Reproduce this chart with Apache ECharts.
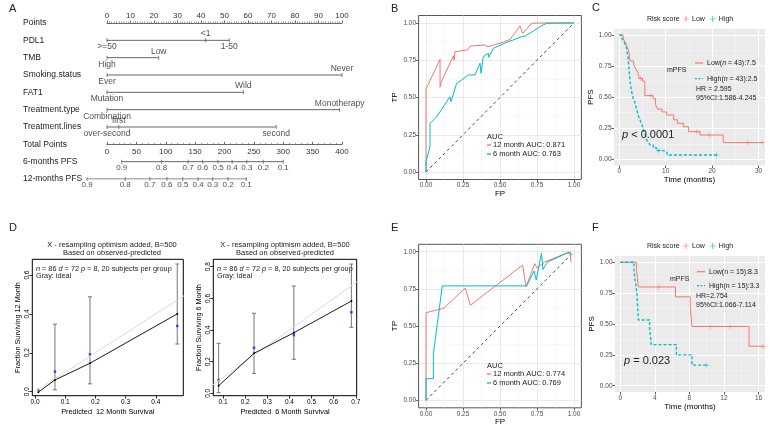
<!DOCTYPE html>
<html><head><meta charset="utf-8">
<script src="https://cdn.jsdelivr.net/npm/echarts@6/dist/echarts.min.js"></script>
<style>html,body{margin:0;padding:0;background:#fff}#c{width:770px;height:425px}</style>
</head><body><div id="c"></div>
<script>
// ================= DATA =================
// A: nomogram
const nomoRows = ['Points','PDL1','TMB','Smoking.status','FAT1','Treatment.type','Treatment.lines','Total Points','6-months PFS','12-months PFS'];
const pdl1Levels = ['>=50','<1','1-50'];            const pdl1Pts = [0, 42, 52];
const tmbLevels = ['High','Low'];                    const tmbPts = [0, 22];
const smokingLevels = ['Ever','Never'];              const smokingPts = [0, 100];
const fat1Levels = ['Mutation','Wild'];              const fat1Pts = [0, 58];
const ttypeLevels = ['Combination','Monotherapy'];   const ttypePts = [0, 99];
const tlinesLevels = ['over-second','first','second']; const tlinesPts = [0, 5, 72];
const pfsTickLabels = ['0.9','0.8','0.7','0.6','0.5','0.4','0.3','0.2','0.1'];
const pfs6Total  = [25, 93, 138, 163, 189, 213, 238, 266, 300];
const pfs12Total = [-34, 31, 73, 102, 129, 155, 180, 206, 237];

// B: ROC (training)
const rocB12 = [[0,0],[0,0.557],[0.095,0.756],[0.095,0.57],[0.106,0.61],[0.185,0.78],[0.19,0.75],[0.196,0.807],[0.25,0.815],[0.28,0.82],[0.3,0.845],[0.365,0.85],[0.4,0.852],[0.42,0.84],[0.455,0.852],[0.52,0.87],[0.568,0.89],[0.59,0.919],[0.635,0.98],[0.653,0.93],[0.714,0.998],[0.8,1.0],[1.0,1.0]];
const rocB6 = [[0,0],[0,0.07],[0.027,0.17],[0.027,0.326],[0.072,0.37],[0.162,0.505],[0.169,0.472],[0.207,0.595],[0.241,0.617],[0.286,0.651],[0.331,0.651],[0.365,0.73],[0.372,0.662],[0.387,0.774],[0.421,0.796],[0.425,0.77],[0.455,0.83],[0.556,0.875],[0.56,0.864],[0.59,0.886],[0.647,0.908],[0.657,0.919],[0.667,0.91],[0.736,0.953],[0.77,0.975],[0.815,0.998],[1.0,1.0]];
const rocDiag = [[0,0],[1,1]];
const aucB = ['12 month AUC: 0.871','6 month AUC: 0.763'];

// C: KM training
const cLowT = [0,0.8,1.1,1.4,1.6,1.9,2.1,2.2,2.3,3.1,3.3,3.6,4.0,4.3,5.0,5.5,7.3,7.8,8.2,9.2,10.2,11.7,12.5,13.8,14.9,17.4,22.4,30.8];
const cLowS = [1,0.977,0.953,0.930,0.907,0.884,0.860,0.814,0.791,0.767,0.744,0.721,0.698,0.651,0.628,0.512,0.488,0.442,0.404,0.381,0.356,0.318,0.290,0.262,0.222,0.195,0.134,0.134];
const cHighT = [0,0.5,0.9,1.2,1.5,1.7,1.9,2.0,2.1,2.2,2.3,2.5,2.7,3.0,3.3,3.6,3.8,4.1,4.4,4.6,4.9,5.2,5.5,5.8,6.2,6.6,7.3,8.0,9.5,10.3,21.0];
const cHighS = [1,0.977,0.953,0.930,0.907,0.860,0.814,0.767,0.721,0.674,0.628,0.581,0.535,0.488,0.465,0.419,0.395,0.349,0.326,0.302,0.279,0.233,0.209,0.163,0.140,0.116,0.093,0.070,0.058,0.035,0.035];
const cLowCensor = [[4.6,0.651],[6.8,0.512],[16.7,0.222],[19.5,0.195],[27.6,0.134],[30.8,0.134]];
const cHighCensor = [[8.5,0.070],[21.0,0.035]];

// D: calibration
const cal12Pred = [0.011, 0.066, 0.182, 0.471];
const cal12Obs  = [-0.003, 0.06, 0.146, 0.40];
const cal12Corr = [0.009, 0.103, 0.192, 0.338];
const cal12Lo   = [null, 0.009, 0.04, 0.245];
const cal12Hi   = [null, 0.347, 0.488, 0.657];
const cal6Pred = [0.08, 0.24, 0.42, 0.68];
const cal6Obs  = [0.048, 0.253, 0.383, 0.583];
const cal6Corr = [0.084, 0.288, 0.368, 0.512];
const cal6Lo   = [0.004, 0.126, 0.215, 0.417];
const cal6Hi   = [0.316, 0.506, 0.678, 0.817];

// E: ROC (validation)
const rocE12 = [[0,0],[0,0.59],[0.12,0.62],[0.265,0.755],[0.3,0.64],[0.653,0.91],[0.676,0.765],[0.735,0.92],[0.75,0.89],[0.8,0.93],[0.973,1.0],[0.98,0.93]];
const rocE6 = [[0,0],[0,0.146],[0.05,0.146],[0.05,0.315],[0.11,0.77],[0.68,0.77],[0.73,0.87],[0.745,0.81],[0.78,0.99],[0.79,0.88],[0.82,0.93],[0.95,0.99],[0.98,0.99]];
const aucE = ['12 month AUC: 0.774','6 month AUC: 0.769'];

// F: KM validation
const fLowT = [0,1.9,2.0,2.1,6.4,8.1,8.3,14.9,16.6];
const fLowS = [1,0.933,0.867,0.80,0.72,0.64,0.48,0.32,0.32];
const fHighT = [0,1.6,1.7,1.85,1.95,2.0,2.05,2.1,3.4,3.5,3.6,6.5,8.3,10.0];
const fHighS = [1,0.933,0.867,0.80,0.733,0.667,0.60,0.533,0.467,0.40,0.333,0.25,0.167,0.167];
const fLowCensor = [[4.4,0.80],[10.4,0.48],[12.7,0.48],[16.6,0.32]];
const fHighCensor = [[10.0,0.167]];

// ================= RENDER =================
const FONT = '"Liberation Sans", Arial, Helvetica, sans-serif';
const SAL = '#F8766D', CYA = '#00BFC4';
const zip = (a,b) => a.map((v,i)=>[v,b[i]]);
const CROSS = 'path://M4.4,0h1.2v10h-1.2zM0,4.4h10v1.2h-10z';

const grids = [
  {left:107, top:23, width:235, height:156},                // 0 nomogram
  {left:418.6, top:15.5, width:162.8, height:164, show:true, backgroundColor:'#fff', borderColor:'#555', borderWidth:1}, // 1 B
  {left:614, top:28.8, width:151, height:136.7, show:true, backgroundColor:'#EBEBEB', borderWidth:0}, // 2 C
  {left:32.3, top:259.3, width:151, height:136.4, show:true, backgroundColor:'transparent', borderColor:'#000', borderWidth:1}, // 3 D left
  {left:213.3, top:259.3, width:143.4, height:136.4, show:true, backgroundColor:'transparent', borderColor:'#000', borderWidth:1}, // 4 D right
  {left:418.6, top:244.3, width:162.8, height:163.5, show:true, backgroundColor:'#fff', borderColor:'#555', borderWidth:1}, // 5 E
  {left:615, top:256.1, width:150, height:135.8, show:true, backgroundColor:'#EBEBEB', borderWidth:0} // 6 F
].map(g=>Object.assign({outerBoundsMode:'none', containLabel:false}, g));

function ggAxes(dim, gi, min, max, major, minor, name, nameGap, fmt, bw) {
  const isX = dim==='x';
  const main = {
    gridIndex:gi, type:'value', min, max, position: isX?'bottom':'left',
    axisLine:{show:false, onZero:false},
    axisTick:{show:true, length:2.5, customValues:major, lineStyle:{color:'#333', width:0.8}},
    axisLabel:{customValues:major, formatter:fmt, fontSize:6.5, color:'#4d4d4d', margin:2.5, fontFamily:FONT},
    splitLine:{show:true, customValues:major, lineStyle:{color: bw?'#e3e3e3':'#ffffff', width: bw?0.8:1}},
    minorTick:{show:false}, minorSplitLine:{show:false},
    name, nameLocation:'middle', nameGap, nameTextStyle:{fontSize:8, color:'#000', fontFamily:FONT}
  };
  const mnr = {
    gridIndex:gi, type:'value', min, max, position: isX?'top':'right',
    axisLine:{show:false, onZero:false},
    axisTick:{show:false, customValues:minor},
    axisLabel:{show:false, customValues:minor},
    splitLine:{show:true, customValues:minor, lineStyle:{color: bw?'#f0f0f0':'#f7f7f7', width:0.5}}
  };
  return [main, mnr];
}
function rAxis(dim, gi, min, max, ticks, name, nameGap) {
  const isX = dim==='x';
  return {
    gridIndex:gi, type:'value', min, max, position: isX?'bottom':'left',
    axisLine:{show:false, onZero:false},
    axisTick:{show:true, length:3, customValues:ticks, lineStyle:{color:'#000', width:0.8}},
    axisLabel:{customValues:ticks, formatter:v=>v.toFixed(1), fontSize:6.5, color:'#000', margin: isX?3:1.5, rotate: isX?0:90, fontFamily:FONT},
    splitLine:{show:false},
    name, nameLocation:'middle', nameGap, nameTextStyle:{fontSize:7.3, color:'#000', fontFamily:FONT}
  };
}
const f2 = v=>v.toFixed(2);
const fi = v=>String(Math.round(v));

const xAxes = [
  // 0 Points
  {gridIndex:0, type:'value', min:0, max:100, interval:10, position:'top',
   axisLine:{show:true, onZero:false, lineStyle:{color:'#444', width:0.8}},
   axisTick:{show:true, length:2.5, lineStyle:{color:'#444', width:0.8}},
   minorTick:{show:true, splitNumber:10, length:1.5, lineStyle:{color:'#666', width:0.6}},
   axisLabel:{fontSize:8, color:'#333', margin:3, fontFamily:FONT}, splitLine:{show:false}},
  // 1 Total Points
  {gridIndex:0, type:'value', min:0, max:400, interval:50, position:'bottom', offset:-34.7,
   axisLine:{show:true, onZero:false, lineStyle:{color:'#444', width:0.8}},
   axisTick:{show:true, length:2.5, inside:true, lineStyle:{color:'#444', width:0.8}},
   minorTick:{show:true, splitNumber:5, length:1.5, lineStyle:{color:'#666', width:0.6}},
   axisLabel:{fontSize:8, color:'#333', margin:3, fontFamily:FONT}, splitLine:{show:false}},
  ...ggAxes('x',1,-0.05,1.05,[0,0.25,0.5,0.75,1],[0.125,0.375,0.625,0.875],'FP',10,f2,true), // 2,3
  ...ggAxes('x',2,-1.15,31.4,[0,10,20,30],[5,15,25],'Time (months)',10,fi,false), // 4,5
  rAxis('x',3,-0.009,0.491,[0,0.1,0.2,0.3,0.4],'Predicted  12 Month Survival',13), // 6
  rAxis('x',4,0.056,0.704,[0.1,0.2,0.3,0.4,0.5,0.6,0.7],'Predicted  6 Month Survival',13), // 7
  ...ggAxes('x',5,-0.05,1.05,[0,0.25,0.5,0.75,1],[0.125,0.375,0.625,0.875],'FP',10,f2,true), // 8,9
  ...ggAxes('x',6,-0.6,16.75,[0,4,8,12,16],[2,6,10,14],'Time (months)',10,fi,false) // 10,11
];
const yAxes = [
  // 0 nomogram rows
  {gridIndex:0, type:'category', data:nomoRows, inverse:true, boundaryGap:false,
   axisLine:{show:false}, axisTick:{show:false}, splitLine:{show:false},
   axisLabel:{align:'left', margin:84, fontSize:8.5, color:'#222', fontFamily:FONT, interval:0}},
  ...ggAxes('y',1,-0.05,1.05,[0,0.25,0.5,0.75,1],[0.125,0.375,0.625,0.875],'TP',20,f2,true), // 1,2
  ...ggAxes('y',2,-0.05,1.05,[0,0.25,0.5,0.75,1],[0.125,0.375,0.625,0.875],'PFS',18,f2,false), // 3,4
  rAxis('y',3,-0.021,0.681,[0,0.2,0.4,0.6],'Fraction Surviving 12 Month',11), // 5
  rAxis('y',4,-0.015,0.847,[0,0.2,0.4,0.6,0.8],'Fraction Surviving 6 Month',11), // 6
  ...ggAxes('y',5,-0.05,1.05,[0,0.25,0.5,0.75,1],[0.125,0.375,0.625,0.875],'TP',20,f2,true), // 7,8
  ...ggAxes('y',6,-0.05,1.05,[0,0.25,0.5,0.75,1],[0.125,0.375,0.625,0.875],'PFS',18,f2,false) // 9,10
];

const series = [];
// ---- A nomogram variable axes
const nomoVars = [
  {row:'PDL1', levels:pdl1Levels, pts:pdl1Pts, up:[1]},
  {row:'TMB', levels:tmbLevels, pts:tmbPts, up:[1]},
  {row:'Smoking.status', levels:smokingLevels, pts:smokingPts, up:[1]},
  {row:'FAT1', levels:fat1Levels, pts:fat1Pts, up:[1]},
  {row:'Treatment.type', levels:ttypeLevels, pts:ttypePts, up:[1]},
  {row:'Treatment.lines', levels:tlinesLevels, pts:tlinesPts, up:[1]}
];
const lblStyle = {show:true, fontSize:8.5, color:'#222', fontFamily:FONT, distance:0};
nomoVars.forEach(v=>{
  series.push({type:'line', xAxisIndex:0, yAxisIndex:0, silent:true, clip:false, symbol:'none',
    lineStyle:{color:'#555', width:0.9}, data:[[Math.min(...v.pts), v.row],[Math.max(...v.pts), v.row]]});
  series.push({type:'scatter', xAxisIndex:0, yAxisIndex:0, silent:true, clip:false, symbol:'rect', symbolSize:[0.9,4],
    itemStyle:{color:'#555'},
    data: v.levels.map((name,i)=>({name, value:[v.pts[i], v.row],
      label:Object.assign({}, lblStyle, {position: v.up.includes(i)?'top':'bottom', formatter:name})}))});
});
[['6-months PFS', pfs6Total], ['12-months PFS', pfs12Total]].forEach(([row, vals])=>{
  series.push({type:'line', xAxisIndex:1, yAxisIndex:0, silent:true, clip:false, symbol:'none',
    lineStyle:{color:'#555', width:0.9}, data:[[Math.min(...vals),row],[Math.max(...vals),row]]});
  series.push({type:'scatter', xAxisIndex:1, yAxisIndex:0, silent:true, clip:false, symbol:'rect', symbolSize:[0.9,4],
    itemStyle:{color:'#555'},
    data: vals.map((x,i)=>({name:pfsTickLabels[i], value:[x,row],
      label:Object.assign({}, lblStyle, {position:'bottom', fontSize:8, formatter:pfsTickLabels[i]})}))});
});

// ---- ROC panels
function rocSeries(xi, yi, d12, d6, names) {
  series.push({type:'line', xAxisIndex:xi, yAxisIndex:yi, silent:true, symbol:'none',
    lineStyle:{color:'#333', width:0.9, type:[3,3]}, data:rocDiag});
  series.push({type:'line', name:names[0], xAxisIndex:xi, yAxisIndex:yi, symbol:'none',
    lineStyle:{color:SAL, width:1}, itemStyle:{color:SAL}, data:d12});
  series.push({type:'line', name:names[1], xAxisIndex:xi, yAxisIndex:yi, symbol:'none',
    lineStyle:{color:CYA, width:1}, itemStyle:{color:CYA}, data:d6});
}
rocSeries(2,1,rocB12,rocB6,aucB);
rocSeries(8,7,rocE12,rocE6,aucE);

// ---- KM panels
function kmSeries(xi, yi, lt, ls, ht, hs, lc, hc) {
  series.push({type:'line', name:'Low', xAxisIndex:xi, yAxisIndex:yi, step:'end', symbol:'none',
    lineStyle:{color:SAL, width:1}, itemStyle:{color:SAL}, data:zip(lt,ls)});
  series.push({type:'line', name:'High', xAxisIndex:xi, yAxisIndex:yi, step:'end', symbol:'none',
    lineStyle:{color:CYA, width:1.4, type:[3,2]}, itemStyle:{color:CYA}, data:zip(ht,hs)});
  series.push({type:'scatter', name:'Low', xAxisIndex:xi, yAxisIndex:yi, symbol:CROSS, symbolSize:5, clip:false,
    itemStyle:{color:SAL}, data:lc});
  series.push({type:'scatter', name:'High', xAxisIndex:xi, yAxisIndex:yi, symbol:CROSS, symbolSize:5, clip:false,
    itemStyle:{color:CYA}, data:hc});
}
kmSeries(4,3,cLowT,cLowS,cHighT,cHighS,cLowCensor,cHighCensor);
kmSeries(10,9,fLowT,fLowS,fHighT,fHighS,fLowCensor,fHighCensor);

// ---- Calibration panels
function calSeries(xi, yi, pred, obs, corr, lo, hi) {
  series.push({type:'line', xAxisIndex:xi, yAxisIndex:yi, silent:true, symbol:'none',
    lineStyle:{color:'#dadada', width:1}, data:[[0,0],[1,1]]});
  series.push({type:'custom', xAxisIndex:xi, yAxisIndex:yi, silent:true,
    data: pred.map((x,i)=>[x, lo[i], hi[i]]).filter(d=>d[1]!==null),
    renderItem:(p,api)=>{
      const a = api.coord([api.value(0), api.value(1)]), b = api.coord([api.value(0), api.value(2)]);
      const st = {stroke:'#666', lineWidth:0.9};
      return {type:'group', children:[
        {type:'line', shape:{x1:a[0],y1:a[1],x2:b[0],y2:b[1]}, style:st},
        {type:'line', shape:{x1:a[0]-2,y1:a[1],x2:a[0]+2,y2:a[1]}, style:st},
        {type:'line', shape:{x1:b[0]-2,y1:b[1],x2:b[0]+2,y2:b[1]}, style:st}]};
    }});
  series.push({type:'line', xAxisIndex:xi, yAxisIndex:yi, silent:true, symbol:'circle', symbolSize:2,
    lineStyle:{color:'#000', width:0.9}, itemStyle:{color:'#000'}, data:zip(pred,obs)});
  series.push({type:'scatter', xAxisIndex:xi, yAxisIndex:yi, silent:true, symbol:'rect', symbolSize:2.5,
    itemStyle:{color:'#2020ff'}, data:zip(pred,corr)});
}
calSeries(6,5,cal12Pred,cal12Obs,cal12Corr,cal12Lo,cal12Hi);
calSeries(7,6,cal6Pred,cal6Obs,cal6Corr,cal6Lo,cal6Hi);

// ---- legends
const legendText = {fontSize:7.5, color:'#222', fontFamily:FONT, lineHeight:8};
const legends = [
  {left:487, top:141, orient:'vertical', padding:0, itemGap:1, itemWidth:4, itemHeight:1.3, icon:'rect',
   data:aucB, textStyle:Object.assign({padding:[0,0,0,-3]}, legendText), selectedMode:false},
  {left:487, top:370, orient:'vertical', padding:0, itemGap:1, itemWidth:4, itemHeight:1.3, icon:'rect',
   data:aucE, textStyle:Object.assign({padding:[0,0,0,-3]}, legendText), selectedMode:false},
  {left:683, top:15, orient:'horizontal', padding:0, itemGap:5, itemWidth:8, itemHeight:6, icon:'path://M0,4.4h10v1.2h-10zM4.4,0h1.2v10h-1.2z',
   data:['Low','High'], textStyle:Object.assign({padding:[0,0,0,-3]}, legendText, {fontSize:7}), selectedMode:false},
  {left:683, top:242, orient:'horizontal', padding:0, itemGap:5, itemWidth:8, itemHeight:6, icon:'path://M0,4.4h10v1.2h-10zM4.4,0h1.2v10h-1.2z',
   data:['Low','High'], textStyle:Object.assign({padding:[0,0,0,-3]}, legendText, {fontSize:7}), selectedMode:false}
];

// ---- annotations
function txt(x, y, text, size, opts) {
  return Object.assign({type:'text', x, y, silent:true, z:100, style:Object.assign({text, fontSize:size, fontFamily:FONT, fill:'#222',
    textAlign:'left', textVerticalAlign:'middle',
    rich:{i:{fontStyle:'italic', fontSize:size, fontFamily:FONT, fill:'#222'}, n:{fontSize:size, fontFamily:FONT, fill:'#222'}}}, opts||{})});
}
function seg(x1,y1,x2,y2,color,dash) {
  return {type:'line', silent:true, z:100, shape:{x1,y1,x2,y2}, style:{stroke:color, lineWidth:1.2, lineDash:dash||null}};
}
const graphics = [
  txt(9, 9, 'A', 11), txt(391, 9, 'B', 11), txt(592, 8, 'C', 11),
  txt(9, 228, 'D', 11), txt(391, 228, 'E', 11), txt(592, 228, 'F', 11),
  txt(487, 137, 'AUC', 7.5), txt(487, 366, 'AUC', 7.5),
  txt(647, 19, 'Risk score', 7), txt(647, 246, 'Risk score', 7),
  // C inner
  txt(667, 70, 'mPFS', 7),
  seg(695,63,703,63,SAL), txt(707, 63, '{n|Low(}{i|n}{n| = 43):7.5}', 7),
  seg(695,78.7,703,78.7,CYA,[2,1.5]), txt(707, 78.7, '{n|High(}{i|n}{n| = 43):2.5}', 7),
  txt(696, 89, 'HR = 2.595', 7), txt(696, 98, '95%CI:1.586-4.245', 7),
  txt(622, 135, '{i|p}{n| < 0.0001}', 11),
  // F inner
  txt(670, 279, 'mPFS', 7),
  seg(697,271.7,705,271.7,SAL), txt(709, 271.7, 'Low(n = 15):8.3', 7),
  seg(697,285.7,705,285.7,CYA,[2,1.5]), txt(709, 285.7, 'High(n = 15):3.3', 7),
  txt(696, 295.7, 'HR=2.754', 7), txt(696, 305, '95%CI:1.066-7.114', 7),
  txt(624, 361, '{i|p}{n| = 0.023}', 11),
  // D titles and notes
  txt(112, 245, 'X - resampling optimism added, B=500', 7.5, {textAlign:'center'}),
  txt(112, 252.5, 'Based on observed-predicted', 7.5, {textAlign:'center'}),
  txt(285, 245, 'X - resampling optimism added, B=500', 7.5, {textAlign:'center'}),
  txt(285, 252.5, 'Based on observed-predicted', 7.5, {textAlign:'center'}),
  txt(36, 269, '{i|n}{n| = 86 }{i|d}{n| = 72 }{i|p}{n| = 8, 20 subjects per group}', 7.3),
  txt(36, 275.5, 'Gray: ideal', 7.3),
  txt(217, 269, '{i|n}{n| = 86 }{i|d}{n| = 72 }{i|p}{n| = 8, 20 subjects per group}', 7.3),
  txt(217, 275.5, 'Gray: ideal', 7.3)
];

const chart = echarts.init(document.getElementById('c'), null, {renderer:'canvas', width:770, height:425});
chart.setOption({
  animation:false,
  backgroundColor:'#fff',
  textStyle:{fontFamily:FONT},
  grid:grids, xAxis:xAxes, yAxis:yAxes, series, legend:legends, graphic:graphics
});
</script></body></html>
